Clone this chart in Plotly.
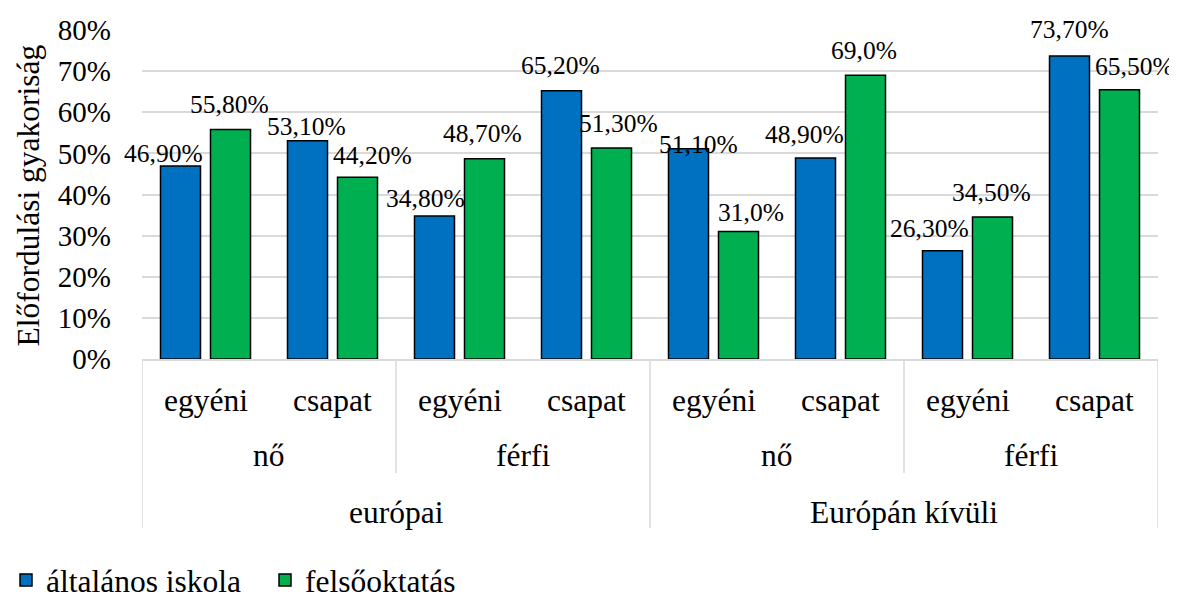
import plotly.graph_objects as go

# ---- data ----
type_labels = ["egyéni", "csapat", "egyéni", "csapat", "egyéni", "csapat", "egyéni", "csapat"]
gender_labels = ["nő", "nő", "férfi", "férfi", "nő", "nő", "férfi", "férfi"]
region_labels = ["európai"] * 4 + ["Európán kívüli"] * 4

series_names = ["általános iskola", "felsőoktatás"]
altalanos = [46.9, 53.1, 34.8, 65.2, 51.1, 48.9, 26.3, 73.7]
felso = [55.8, 44.2, 48.7, 51.3, 31.0, 69.0, 34.5, 65.5]
altalanos_text = ["46,90%", "53,10%", "34,80%", "65,20%", "51,10%", "48,90%", "26,30%", "73,70%"]
felso_text = ["55,80%", "44,20%", "48,70%", "51,30%", "31,0%", "69,0%", "34,50%", "65,50%"]

y_ticks = [0, 10, 20, 30, 40, 50, 60, 70, 80]
y_title = "Előfordulási gyakoriság"

# ---- style ----
FONT = "Liberation Serif"
BLUE = "#0070C0"
GREEN = "#00B050"
GRID = "#D9D9D9"
BARGAP = 0.2126
BARGROUPGAP = 0.2
PAGE_OFF = 8  # default body margin of the html page
FIG_W = 1177 - PAGE_OFF
FIG_H = 599 - PAGE_OFF
M_L = 142 - PAGE_OFF
M_T = 30 - PAGE_OFF
M_R = 19
M_B = 240
PLOT_W = FIG_W - M_L - M_R
PLOT_H = FIG_H - M_T - M_B
# label offsets in px (dx right, dy down) relative to bar top centre
blue_shift = [(-17.5, -13), (-1.5, -14), (-9, -17), (-1, -25), (10, -4), (-11.5, -23), (-13.5, -22), (0, -26)]
green_shift = [(-1.5, -25.5), (15, -22), (-2, -25), (7, -25), (12, -19.5), (-1.5, -25), (-1, -25), (15, -23)]

x = list(range(len(type_labels)))

fig = go.Figure()
fig.add_trace(go.Bar(x=x, y=altalanos, name=series_names[0],
                     marker=dict(color=BLUE, line=dict(color="black", width=1.5))))
fig.add_trace(go.Bar(x=x, y=felso, name=series_names[1],
                     marker=dict(color=GREEN, line=dict(color="black", width=1.5))))

annotations = []
half = (1 - BARGAP) / 4  # bar centre offset from category centre, in data units
for i in x:
    for vals, texts, shifts, sgn in ((altalanos, altalanos_text, blue_shift, -1),
                                     (felso, felso_text, green_shift, 1)):
        dx, dy = shifts[i]
        annotations.append(dict(x=i + sgn * half, y=vals[i], xref="x", yref="y",
                                text=texts[i], showarrow=False, xanchor="center",
                                yanchor="middle", xshift=dx, yshift=-dy,
                                font=dict(family=FONT, size=25.5, color="black")))

def py(pix):
    # pixels below plot-area bottom -> paper y
    return -pix / PLOT_H

# level 1 labels
for i in x:
    annotations.append(dict(x=i, y=py(41), xref="x", yref="paper", text=type_labels[i],
                            showarrow=False, yanchor="middle",
                            font=dict(family=FONT, size=31.5, color="black")))

def spans(labels, parents=None):
    out = []
    start = 0
    for i in range(1, len(labels) + 1):
        if i == len(labels) or labels[i] != labels[start] or (parents and parents[i] != parents[start]):
            out.append((start, i - 1, labels[start]))
            start = i
    return out

gender_spans = spans(gender_labels, region_labels)
region_spans = spans(region_labels)
for a, b, t in gender_spans:
    annotations.append(dict(x=(a + b) / 2, y=py(96), xref="x", yref="paper", text=t,
                            showarrow=False, yanchor="middle",
                            font=dict(family=FONT, size=31.5, color="black")))
for a, b, t in region_spans:
    annotations.append(dict(x=(a + b) / 2, y=py(153), xref="x", yref="paper", text=t,
                            showarrow=False, yanchor="middle",
                            font=dict(family=FONT, size=31.5, color="black")))

# y axis title
annotations.append(dict(x=-114 / PLOT_W, y=0.497, xref="paper", yref="paper", text=y_title,
                        textangle=-90, showarrow=False, xanchor="center", yanchor="middle",
                        font=dict(family=FONT, size=31.5, color="black")))

shapes = []
region_bounds = {b + 0.5 for a, b, t in region_spans} | {-0.5}
gender_bounds = {b + 0.5 for a, b, t in gender_spans} - region_bounds
for xb in sorted(region_bounds):
    shapes.append(dict(type="line", xref="x", yref="paper", x0=xb, x1=xb, y0=0, y1=py(169),
                       line=dict(color=GRID, width=1.5)))
for xb in sorted(gender_bounds):
    shapes.append(dict(type="line", xref="x", yref="paper", x0=xb, x1=xb, y0=0, y1=py(114),
                       line=dict(color=GRID, width=1.5)))

fig.update_layout(
    width=FIG_W, height=FIG_H,
    margin=dict(l=M_L, r=M_R, t=M_T, b=M_B, autoexpand=False),
    paper_bgcolor="white", plot_bgcolor="white",
    barmode="group", bargap=BARGAP, bargroupgap=BARGROUPGAP,
    font=dict(family=FONT, color="black"),
    xaxis=dict(range=[-0.5, 7.5], showticklabels=False, showgrid=False, zeroline=False,
               showline=True, linecolor=GRID, linewidth=1.5, ticks=""),
    yaxis=dict(range=[0, 80], tickvals=y_ticks, ticktext=[f"{v}%" for v in y_ticks],
               showgrid=True, gridcolor=GRID, gridwidth=1.5, zeroline=False,
               showline=False, ticks="", ticklabelstandoff=30,
               tickfont=dict(family=FONT, size=29, color="black")),
    legend=dict(orientation="h", x=-(M_L + 2) / PLOT_W, y=-(580 - 359) / PLOT_H,
                xanchor="left", yanchor="middle", entrywidth=214, entrywidthmode="pixels",
                font=dict(family=FONT, size=31.5, color="black"), bgcolor="rgba(0,0,0,0)"),
    annotations=annotations,
    shapes=shapes,
)

fig.write_html("out.html")
